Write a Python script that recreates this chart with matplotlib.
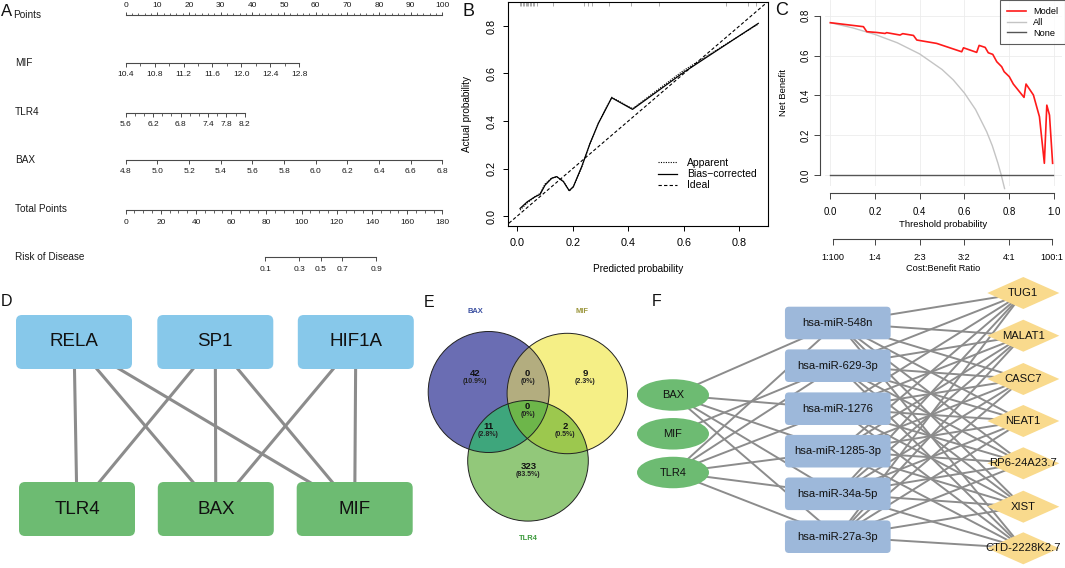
import numpy as np
import matplotlib
matplotlib.use("Agg")
import matplotlib.pyplot as plt
from matplotlib.patches import FancyBboxPatch, Ellipse, Polygon, Circle
from matplotlib.lines import Line2D

plt.rcParams['font.family'] = ['Liberation Sans', 'DejaVu Sans']

# ---------------- data ----------------
# A: nomogram
points_range = (0, 100)
mif_range = (10.4, 12.8); mif_max_points = 54.8
mif_labels = [10.4, 10.8, 11.2, 11.6, 12.0, 12.4, 12.8]
tlr4_range = (5.6, 8.2); tlr4_max_points = 37.6
tlr4_labels = [5.6, 6.2, 6.8, 7.4, 7.8, 8.2]
bax_range = (4.8, 6.8); bax_max_points = 100
bax_labels = [4.8, 5.0, 5.2, 5.4, 5.6, 5.8, 6.0, 6.2, 6.4, 6.6, 6.8]
total_points_range = (0, 180)
risk_probs = [0.1, 0.3, 0.5, 0.7, 0.9]
risk_total_points = [79.4, 98.6, 110.8, 123.0, 142.4]

# B: calibration
cal_pred = [0.010, 0.036, 0.064, 0.082, 0.100, 0.124, 0.142, 0.166, 0.187, 0.202,
            0.232, 0.262, 0.292, 0.340, 0.415, 0.598, 0.868]
cal_bias_corrected = [0.032, 0.060, 0.081, 0.091, 0.130, 0.159, 0.166, 0.145, 0.107, 0.124,
                      0.208, 0.306, 0.390, 0.498, 0.449, 0.604, 0.811]
cal_apparent = [0.025, 0.055, 0.082, 0.095, 0.135, 0.160, 0.165, 0.147, 0.105, 0.122,
                0.205, 0.305, 0.392, 0.500, 0.452, 0.612, 0.808]
ideal = [-0.03, 0.91]
rug_pred = [0.010, 0.015, 0.02, 0.025, 0.03, 0.035, 0.04, 0.045, 0.05, 0.055, 0.06, 0.07,
            0.13, 0.24, 0.255, 0.27, 0.33, 0.41, 0.51, 0.75, 0.83, 0.86]

# C: decision curve
dca_threshold = [0.0, 0.148, 0.163, 0.207, 0.245, 0.252, 0.312, 0.324, 0.372, 0.387, 0.476,
                 0.588, 0.596, 0.655, 0.666, 0.693, 0.707, 0.727, 0.745, 0.767, 0.778, 0.801,
                 0.819, 0.867, 0.876, 0.909, 0.936, 0.958, 0.969, 0.981, 0.995]
dca_model = [0.765, 0.745, 0.720, 0.716, 0.711, 0.715, 0.703, 0.710, 0.701, 0.678, 0.661,
             0.619, 0.639, 0.616, 0.651, 0.641, 0.614, 0.606, 0.569, 0.544, 0.519, 0.494,
             0.457, 0.390, 0.457, 0.402, 0.293, 0.059, 0.351, 0.301, 0.059]
all_threshold = [0.0, 0.1, 0.2, 0.3, 0.4, 0.5, 0.55, 0.6, 0.65, 0.7, 0.725, 0.75, 0.765, 0.78]
all_nb = [0.765, 0.739, 0.706, 0.664, 0.608, 0.530, 0.478, 0.412, 0.329, 0.217, 0.147, 0.060, 0.000, -0.068]
none_threshold = [0.0, 0.995]
none_nb = [0.0, 0.0]
cb_positions = [0.01, 0.2, 0.4, 0.6, 0.8, 0.99]
cb_labels = ['1:100', '1:4', '2:3', '3:2', '4:1', '100:1']

# D: TF network
d_tfs = ['RELA', 'SP1', 'HIF1A']
d_genes = ['TLR4', 'BAX', 'MIF']
d_edges = [('RELA', 'TLR4'), ('RELA', 'BAX'), ('RELA', 'MIF'),
           ('SP1', 'TLR4'), ('SP1', 'BAX'), ('SP1', 'MIF'),
           ('HIF1A', 'BAX'), ('HIF1A', 'MIF')]

# E: Venn
venn_sets = ['BAX', 'MIF', 'TLR4']
venn_counts = {'BAX': 42, 'MIF': 9, 'TLR4': 323, 'BAX&MIF': 0, 'BAX&TLR4': 11,
               'MIF&TLR4': 2, 'BAX&MIF&TLR4': 0}

# F: ceRNA network
f_genes = ['BAX', 'MIF', 'TLR4']
f_mirnas = ['hsa-miR-548n', 'hsa-miR-629-3p', 'hsa-miR-1276', 'hsa-miR-1285-3p',
            'hsa-miR-34a-5p', 'hsa-miR-27a-3p']
f_lncrnas = ['TUG1', 'MALAT1', 'CASC7', 'NEAT1', 'RP6-24A23.7', 'XIST', 'CTD-2228K2.7']
f_gene_mirna = [('BAX', 'hsa-miR-548n'), ('BAX', 'hsa-miR-1276'), ('BAX', 'hsa-miR-1285-3p'),
                ('BAX', 'hsa-miR-34a-5p'), ('BAX', 'hsa-miR-27a-3p'),
                ('MIF', 'hsa-miR-629-3p'),
                ('TLR4', 'hsa-miR-548n'), ('TLR4', 'hsa-miR-629-3p'), ('TLR4', 'hsa-miR-1276'),
                ('TLR4', 'hsa-miR-1285-3p'), ('TLR4', 'hsa-miR-34a-5p'), ('TLR4', 'hsa-miR-27a-3p')]
f_mirna_lnc = [(m, l) for m in f_mirnas for l in f_lncrnas]

# ---------------- figure ----------------
W, H = 1065, 568
fig = plt.figure(figsize=(W / 100, H / 100), dpi=100)


def rect(l, t, r, b):
    return [l / W, 1 - b / H, (r - l) / W, (b - t) / H]


ax0 = fig.add_axes([0, 0, 1, 1])
ax0.set_xlim(0, W)
ax0.set_ylim(H, 0)
ax0.axis('off')

TXT = '#1a1a1a'
LINEC = '#4a4a4a'

# ---------------- Panel A: nomogram ----------------
NX0, NX1 = 125.7, 442.4


def nomo_row(y_line, xlim, bounds, major, labels, minor=None, top=False,
             maj_len=3, min_len=2, pad=3.0):
    if top:
        ax = fig.add_axes(rect(NX0, y_line, NX1, y_line + 1))
        side = 'top'
    else:
        ax = fig.add_axes(rect(NX0, y_line - 1, NX1, y_line))
        side = 'bottom'
    ax.set_xlim(*xlim)
    ax.set_ylim(0, 1)
    ax.patch.set_visible(False)
    for s in ['top', 'bottom', 'left', 'right']:
        ax.spines[s].set_visible(s == side)
    ax.spines[side].set_bounds(*bounds)
    ax.spines[side].set_color(LINEC)
    ax.spines[side].set_linewidth(0.8)
    ax.set_yticks([])
    ax.xaxis.set_ticks_position(side)
    ax.xaxis.set_label_position(side)
    ax.set_xticks(major)
    ax.set_xticklabels(labels, fontsize=6, color=TXT)
    if minor is not None:
        ax.set_xticks(minor, minor=True)
    ax.tick_params(axis='x', which='major', direction='out', length=maj_len, width=0.7,
                   color=LINEC, pad=pad)
    ax.tick_params(axis='x', which='minor', direction='out', length=min_len, width=0.6,
                   color=LINEC)
    return ax


# Points
pts_major = list(range(0, 101, 10))
nomo_row(15, points_range, points_range, pts_major, [str(v) for v in pts_major],
         minor=list(range(0, 101, 2)), top=True, maj_len=2.5, min_len=1.5, pad=1.5)

# MIF
mif_span = (mif_range[1] - mif_range[0]) * points_range[1] / mif_max_points
nomo_row(63, (mif_range[0], mif_range[0] + mif_span), mif_range, mif_labels,
         ['%.1f' % v for v in mif_labels], minor=list(np.arange(10.4, 12.81, 0.2)))
# TLR4
tlr4_span = (tlr4_range[1] - tlr4_range[0]) * points_range[1] / tlr4_max_points
nomo_row(112.7, (tlr4_range[0], tlr4_range[0] + tlr4_span), tlr4_range, tlr4_labels,
         ['%.1f' % v for v in tlr4_labels], minor=list(np.arange(5.6, 8.21, 0.2)))
# BAX
bax_span = (bax_range[1] - bax_range[0]) * points_range[1] / bax_max_points
nomo_row(160, (bax_range[0], bax_range[0] + bax_span), bax_range, bax_labels,
         ['%.1f' % v for v in bax_labels])
# Total points
tp_major = list(range(0, 181, 20))
nomo_row(210, total_points_range, total_points_range, tp_major, [str(v) for v in tp_major],
         minor=list(range(0, 181, 5)), maj_len=3, min_len=2, pad=3.5)
# Risk
nomo_row(257.3, total_points_range, (risk_total_points[0], risk_total_points[-1]),
         risk_total_points, ['%.1f' % v for v in risk_probs], pad=3.5)

row_labels = [('Points', 13.5, 15), ('MIF', 15, 63), ('TLR4', 15, 111.7), ('BAX', 15, 160),
              ('Total Points', 15, 209), ('Risk of Disease', 15, 256.7)]
for txt, x, y in row_labels:
    ax0.text(x, y, txt, fontsize=7.2, color=TXT, ha='left', va='center')

# ---------------- Panel B: calibration ----------------
axB = fig.add_axes(rect(508, 2, 768, 226))
axB.set_xlim(-0.0335, 0.903)
axB.set_ylim(-0.042, 0.901)
axB.plot(ideal, ideal, color='black', lw=0.8, ls=(0, (3, 2)), label='Ideal', zorder=2)
axB.plot(cal_pred, cal_apparent, color='black', lw=0.8, ls=(0, (1, 1.2)), label='Apparent', zorder=3)
axB.plot(cal_pred, cal_bias_corrected, color='black', lw=0.9, ls='-', label='Bias-corrected', zorder=3)
axB.vlines(rug_pred, 0.885, 0.901, color='#888888', lw=0.5)
axB.set_xticks([0.0, 0.2, 0.4, 0.6, 0.8])
axB.set_xticklabels(['0.0', '0.2', '0.4', '0.6', '0.8'], fontsize=7.8)
axB.set_yticks([0.0, 0.2, 0.4, 0.6, 0.8])
axB.set_yticklabels(['0.0', '0.2', '0.4', '0.6', '0.8'], fontsize=7.8, rotation=90, va='center')
axB.tick_params(direction='out', length=3.5, width=0.7, pad=5)
axB.set_xlabel('Predicted probability', fontsize=7.2, labelpad=12)
axB.set_ylabel('Actual probability', fontsize=7.2, labelpad=10)
for s in axB.spines.values():
    s.set_linewidth(0.8)
hB = [Line2D([], [], color='black', lw=0.8, ls=(0, (1, 1.2))),
      Line2D([], [], color='black', lw=0.9),
      Line2D([], [], color='black', lw=0.8, ls=(0, (3, 2)))]
axB.legend(hB, ['Apparent', 'Bias\u2212corrected', 'Ideal'], loc='upper left',
           bbox_to_anchor=(658 / W, 1 - 158 / H), bbox_transform=fig.transFigure,
           frameon=False, fontsize=7.5, handlelength=1.8, handletextpad=1.0,
           labelspacing=0.12, borderpad=0, borderaxespad=0)

# ---------------- Panel C: decision curve ----------------
axC = fig.add_axes(rect(825, 0, 1062, 186))
axC.set_xlim(-0.024, 1.037)
axC.set_ylim(-0.055, 0.879)
axC.grid(True, color='#ececec', lw=0.6)
axC.set_axisbelow(True)
axC.plot(all_threshold, all_nb, color='#c4c4c4', lw=1.0, clip_on=False, zorder=2)
axC.plot(none_threshold, none_nb, color='#555555', lw=1.0, zorder=2)
axC.plot(dca_threshold, dca_model, color='#ff1a1a', lw=1.2, zorder=3)
for s in ['top', 'right']:
    axC.spines[s].set_visible(False)
axC.spines['left'].set_position(('outward', 3.6))
axC.spines['left'].set_bounds(0, 0.8)
axC.spines['bottom'].set_position(('outward', 4.8))
axC.spines['bottom'].set_bounds(0, 1.0)
for s in ['left', 'bottom']:
    axC.spines[s].set_color('#444444')
    axC.spines[s].set_linewidth(0.8)
axC.set_xticks([0.0, 0.2, 0.4, 0.6, 0.8, 1.0])
axC.set_xticklabels(['0.0', '0.2', '0.4', '0.6', '0.8', '1.0'], fontsize=6.9)
axC.set_yticks([0.0, 0.2, 0.4, 0.6, 0.8])
axC.set_yticklabels(['0.0', '0.2', '0.4', '0.6', '0.8'], fontsize=6.9, rotation=90, va='center')
axC.tick_params(axis='x', direction='out', length=4.5, width=0.7, color='#444444', pad=6)
axC.tick_params(axis='y', direction='out', length=4.5, width=0.7, color='#444444', pad=2.5)
axC.set_xlabel('Threshold probability', fontsize=6.8, labelpad=2)
axC.set_ylabel('Net Benefit', fontsize=6.8, labelpad=9)

axC2 = axC.twiny()
axC2.set_xlim(axC.get_xlim())
axC2.patch.set_visible(False)
for s in ['top', 'left', 'right']:
    axC2.spines[s].set_visible(False)
axC2.xaxis.set_ticks_position('bottom')
axC2.xaxis.set_label_position('bottom')
axC2.spines['bottom'].set_position(('outward', 38.4))
axC2.spines['bottom'].set_bounds(cb_positions[0], cb_positions[-1])
axC2.spines['bottom'].set_color('#444444')
axC2.spines['bottom'].set_linewidth(0.8)
axC2.set_xticks(cb_positions)
axC2.set_xticklabels(cb_labels, fontsize=6.6)
axC2.tick_params(direction='out', length=4.5, width=0.7, color='#444444', pad=5)
axC2.set_xlabel('Cost:Benefit Ratio', fontsize=6.6, labelpad=2)

hC = [Line2D([], [], color='#ff1a1a', lw=1.2),
      Line2D([], [], color='#c4c4c4', lw=1.0),
      Line2D([], [], color='#555555', lw=1.0)]
legC = axC.legend(hC, ['Model', 'All', 'None'], loc='upper left',
                  bbox_to_anchor=(1000 / W, 1.0), bbox_transform=fig.transFigure,
                  frameon=True, fancybox=False, fontsize=6.6, handlelength=2.1,
                  handletextpad=0.8, labelspacing=0.2, borderpad=0.75, borderaxespad=0)
legC.get_frame().set_edgecolor('#333333')
legC.get_frame().set_linewidth(0.8)

# ---------------- Panel D: TF network ----------------
EDGE = '#8c8c8c'
d_pos = {'RELA': (74, 342), 'SP1': (215.3, 342), 'HIF1A': (355.8, 342),
         'TLR4': (77, 509), 'BAX': (215.8, 509), 'MIF': (354.7, 509)}
for a, b in d_edges:
    (x1, y1), (x2, y2) = d_pos[a], d_pos[b]
    ax0.plot([x1, x2], [y1, y2], color=EDGE, lw=2.2, zorder=1, solid_capstyle='butt')
for name in d_tfs + d_genes:
    cx, cy = d_pos[name]
    col = '#87c8ea' if name in d_tfs else '#6dbb72'
    w, h = 116, 54
    ax0.add_patch(FancyBboxPatch((cx - w / 2, cy - h / 2), w, h,
                                 boxstyle='round,pad=0,rounding_size=6',
                                 fc=col, ec='none', zorder=2))
    ax0.text(cx, cy, name, fontsize=13.5, ha='center', va='center', color='#111111', zorder=3)

# ---------------- Panel E: Venn ----------------
venn_circ = {'BAX': (488.7, 392.0, 60.5), 'MIF': (567.3, 393.5, 60.2), 'TLR4': (528.0, 460.8, 60.3)}
venn_cols = {'BAX': '#6a6db3', 'MIF': '#f5ef86', 'TLR4': '#92c87a',
             'BAX&MIF': '#b3ad7f', 'BAX&TLR4': '#3ea67c', 'MIF&TLR4': '#9cc84e',
             'BAX&MIF&TLR4': '#6db64a'}


def region_poly(names):
    pts = []
    th = np.linspace(0, 2 * np.pi, 1440, endpoint=False)
    for n in names:
        cx, cy, r = venn_circ[n]
        px, py = cx + r * np.cos(th), cy + r * np.sin(th)
        keep = np.ones_like(px, dtype=bool)
        for m in names:
            if m == n:
                continue
            ox, oy, orr = venn_circ[m]
            keep &= (px - ox) ** 2 + (py - oy) ** 2 <= orr ** 2 + 1e-6
        pts.append(np.column_stack([px[keep], py[keep]]))
    pts = np.vstack(pts)
    c = pts.mean(axis=0)
    ang = np.arctan2(pts[:, 1] - c[1], pts[:, 0] - c[0])
    return pts[np.argsort(ang)]


for n in venn_sets:
    cx, cy, r = venn_circ[n]
    ax0.add_patch(Circle((cx, cy), r, fc=venn_cols[n], ec='none', zorder=1))
for key in ['BAX&MIF', 'BAX&TLR4', 'MIF&TLR4', 'BAX&MIF&TLR4']:
    poly = region_poly(key.split('&'))
    ax0.add_patch(Polygon(poly, closed=True, fc=venn_cols[key], ec='none',
                          zorder=2 if key.count('&') == 1 else 3))
for n in venn_sets:
    cx, cy, r = venn_circ[n]
    ax0.add_patch(Circle((cx, cy), r, fill=False, ec='#222222', lw=0.7, zorder=4))

total = sum(venn_counts.values())
venn_text_pos = {'BAX': (475, 375), 'MIF': (585, 375), 'TLR4': (528.3, 468.3),
                 'BAX&MIF': (527.7, 375), 'BAX&TLR4': (488.3, 428.3),
                 'MIF&TLR4': (565, 428.3), 'BAX&MIF&TLR4': (527.7, 408.3)}
for key, (x, y) in venn_text_pos.items():
    cnt = venn_counts[key]
    pct = '(0%)' if cnt == 0 else '(%.1f%%)' % (100 * cnt / total)
    ax0.text(x, y - 1.5, str(cnt), fontsize=6.8, fontweight='bold', ha='center', va='center',
             color='#111111', zorder=5)
    ax0.text(x, y + 6.5, pct, fontsize=5.0, fontweight='bold', ha='center', va='center',
             color='#222222', zorder=5)
venn_label_pos = {'BAX': (475, 311.7, '#3a4fa0'), 'MIF': (581.7, 311.7, '#9a953a'),
                  'TLR4': (528.3, 538.3, '#3c9a3c')}
for n, (x, y, c) in venn_label_pos.items():
    ax0.text(x, y, n, fontsize=5.4, fontweight='bold', color=c, ha='center', va='center')

# ---------------- Panel F: ceRNA network ----------------
f_pos = {}
for n, y in zip(f_genes, [395.0, 433.8, 472.5]):
    f_pos[n] = (673.0, y)
for n, y in zip(f_mirnas, [323.0, 365.7, 408.7, 451.2, 493.8, 536.7]):
    f_pos[n] = (837.8, y)
for n, y in zip(f_lncrnas, [293.0, 335.7, 379.0, 421.0, 463.3, 506.7, 548.3]):
    f_pos[n] = (1023.3, y)
for a, b in f_gene_mirna + f_mirna_lnc:
    (x1, y1), (x2, y2) = f_pos[a], f_pos[b]
    ax0.plot([x1, x2], [y1, y2], color=EDGE, lw=1.4, zorder=1)
for n in f_genes:
    cx, cy = f_pos[n]
    ax0.add_patch(Ellipse((cx, cy), 72, 31.5, fc='#6dbb72', ec='none', zorder=2))
    ax0.text(cx, cy, n, fontsize=7.9, ha='center', va='center', color='#111111', zorder=3)
for n in f_mirnas:
    cx, cy = f_pos[n]
    w, h = 105.7, 32.6
    ax0.add_patch(FancyBboxPatch((cx - w / 2, cy - h / 2), w, h,
                                 boxstyle='round,pad=0,rounding_size=4',
                                 fc='#9db8da', ec='none', zorder=2))
    ax0.text(cx, cy, n, fontsize=8.1, ha='center', va='center', color='#111111', zorder=3)
for n in f_lncrnas:
    cx, cy = f_pos[n]
    dx, dy = 36, 16
    ax0.add_patch(Polygon([(cx - dx, cy), (cx, cy - dy), (cx + dx, cy), (cx, cy + dy)],
                          closed=True, fc='#f9da8d', ec='none', zorder=2))
    ax0.text(cx, cy, n, fontsize=8.1, ha='center', va='center', color='#111111', zorder=3)

# ---------------- panel letters ----------------
for letter, x, y, fs in [('A', 0.5, 11.5, 12), ('B', 463, 12, 13), ('C', 775, 10.5, 13),
                         ('D', 1, 301, 11.5), ('E', 424, 302.5, 11.5), ('F', 652, 301, 11.5)]:
    ax0.text(x, y, letter, fontsize=fs, ha='left', va='center', color='#111111')

fig.savefig('out.png', dpi=100)
